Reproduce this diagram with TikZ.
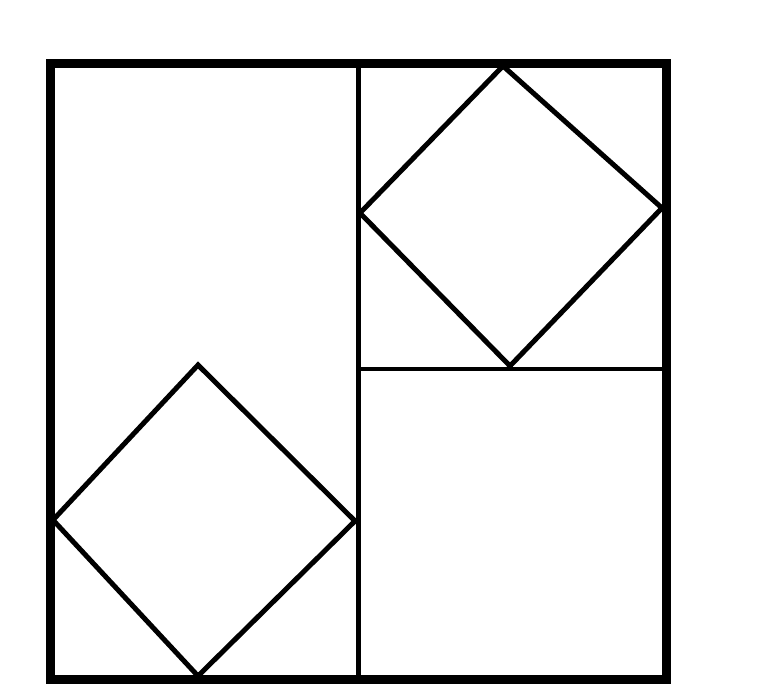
\documentclass[tikz,border=0pt]{standalone}
\begin{document}
\begin{tikzpicture}[x=1pt,y=-1pt,
  outerline/.style={line width=9pt,line join=miter},
  innerline/.style={line width=4.5pt},
  diamondline/.style={line width=5pt,line join=miter}]
\useasboundingbox[fill=white] (0,0) rectangle (772,691);
% frame corners
\coordinate (TL) at (50.5,63.5);
\coordinate (BR) at (666.7,679.5);
% dividers
\coordinate (Vt) at (358.5,63.5);
\coordinate (Vb) at (358.5,679.5);
\coordinate (Hl) at (358.5,369);
\coordinate (Hr) at (666.7,369);
% top-right diamond
\coordinate (A1) at (503,66);
\coordinate (A2) at (662,208);
\coordinate (A3) at (510,366);
\coordinate (A4) at (360,213);
% bottom-left diamond
\coordinate (B1) at (198,365);
\coordinate (B2) at (355,521);
\coordinate (B3) at (198,676);
\coordinate (B4) at (53,520);
\draw[innerline] (Vt) -- (Vb);
\draw[innerline] (Hl) -- (Hr);
\draw[diamondline] (A1) -- (A2) -- (A3) -- (A4) -- cycle;
\draw[diamondline] (B1) -- (B2) -- (B3) -- (B4) -- cycle;
\draw[outerline] (TL) rectangle (BR);
\end{tikzpicture}
\end{document}
